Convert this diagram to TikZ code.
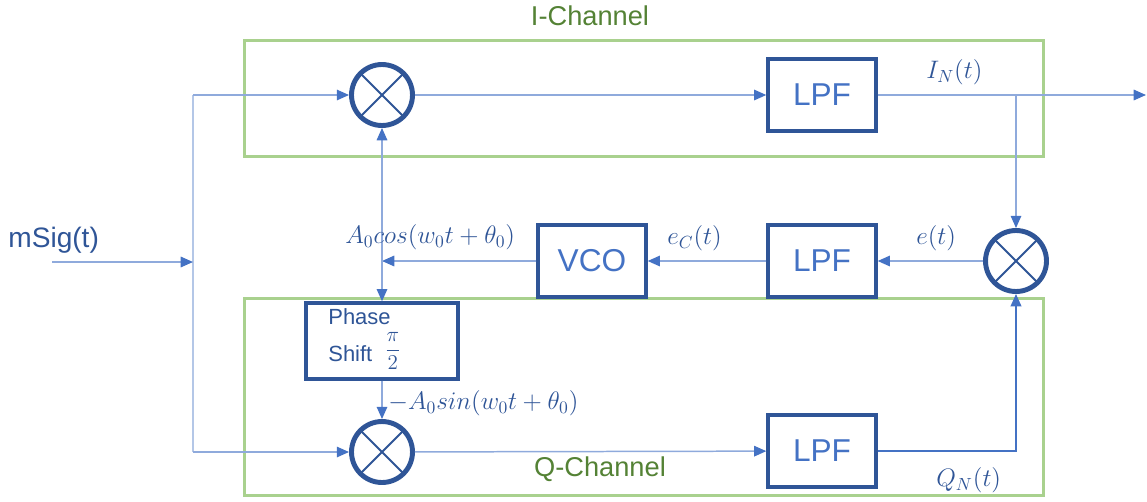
\documentclass[tikz,border=0pt]{standalone}
\usepackage{fontspec}
\setmainfont{Liberation Sans}
\usetikzlibrary{arrows.meta,positioning}
\definecolor{boxblue}{HTML}{2F5597}
\definecolor{txtblue}{HTML}{4472C4}
\definecolor{wireblue}{HTML}{8FAADC}
\definecolor{paleblue}{HTML}{B4C7E7}
\definecolor{chgreen}{HTML}{A9D18E}
\definecolor{chtext}{HTML}{548235}
\tikzset{
  channel/.style={draw=chgreen, line width=1.7pt, rectangle, minimum width=16cm, inner sep=0pt},
  chlabel/.style={text=chtext, font=\fontsize{15.5}{18}\selectfont, inner sep=0pt},
  block/.style={draw=boxblue, line width=1.9pt, rectangle, fill=white, text=txtblue,
    minimum width=2.16cm, minimum height=1.44cm, inner sep=0pt, font=\fontsize{18}{20}\selectfont},
  mixer/.style={draw=boxblue, line width=2.8pt, circle, fill=white, minimum size=1.22cm, inner sep=0pt,
    path picture={\draw[boxblue, line width=1.1pt]
      (path picture bounding box.north east) -- (path picture bounding box.south west)
      (path picture bounding box.north west) -- (path picture bounding box.south east);}},
  wire/.style={draw=wireblue, line width=0.85pt},
  sig/.style={wire, -{Triangle[length=7pt,width=6pt,color=txtblue]}},
  qsig/.style={draw=txtblue, line width=1.1pt, -{Triangle[length=7pt,width=6pt,color=txtblue]}},
  mlabel/.style={text=boxblue, font=\fontsize{14.5}{16}\selectfont, inner sep=0pt, anchor=west},
}
\begin{document}
\begin{tikzpicture}[x=0.02cm, y=-0.02cm]
\useasboundingbox (0,0) rectangle (1147,501);

% channel frames
\node[channel, minimum height=2.34cm] (chI) at (644,98.5) {};
\node[channel, minimum height=3.94cm] (chQ) at (644,397) {};
\node[chlabel] (chIlab) at (590,16) {I-Channel};
\node[chlabel] (chQlab) at (600,469) {Q-Channel};

% blocks
\node[mixer] (mi) at (382,95) {};
\node[mixer] (mq) at (382,452) {};
\node[mixer] (me) at (1016,261) {};
\node[block] (lpfi) at (822,95) {LPF};
\node[block] (lpfe) at (822,261) {LPF};
\node[block] (lpfq) at (822,451) {LPF};
\node[block] (vco) at (592,261) {VCO};
\node[block, minimum width=3.04cm, minimum height=1.52cm] (ps) at (382,341) {};
\node[text=boxblue, anchor=west, inner sep=0pt, align=left, font=\fontsize{12.5}{21}\selectfont]
  (pstext) at (328,339) {Phase\\Shift\; \raisebox{0.5ex}{$\displaystyle\frac{\pi}{2}$}};

% junction points
\coordinate (in) at (52,262);
\coordinate (split) at (193,262);
\coordinate (ti) at (193,95);
\coordinate (tq) at (193,452);
\coordinate (jv) at (382,261);
\coordinate (bi) at (1016,95);
\coordinate (out) at (1146,95);

% input distribution
\draw[draw=paleblue, line width=1.1pt] (ti) -- (tq);
\draw[sig] (in) -- (split);
\draw[sig] (ti) -- (mi.west);
\draw[sig] (tq) -- (mq.west);

% I path
\draw[sig] (mi) -- (lpfi);
\draw[sig] (lpfi.east) -- (out);
\draw[sig] (bi) -- (me.north);

% loop
\draw[sig] (me) -- (lpfe);
\draw[sig] (lpfe) -- (vco);
\draw[sig] (vco.west) -- (jv);
\draw[sig] (jv) -- (mi.south);
\draw[sig] (jv) -- (ps.north);
\draw[sig] (ps.south) -- (mq.north);

% Q path
\draw[sig] (mq) -- (lpfq);
\draw[qsig] (lpfq.east) -| (me.south);

% labels
\node[text=boxblue, font=\fontsize{16}{18}\selectfont, inner sep=0pt, anchor=west] (msig) at (8,240) {mSig(t)};
\node[mlabel] (lIN) at (926,72) {$I_N(t)$};
\node[mlabel] (le) at (916,238) {$e(t)$};
\node[mlabel] (leC) at (667,238) {$e_C(t)$};
\node[mlabel] (lcos) at (345,237) {$A_0cos(w_0t+\theta_0)$};
\node[mlabel] (lsin) at (388,403) {$-A_0sin(w_0t+\theta_0)$};
\node[mlabel] (lQN) at (936,480) {$Q_N(t)$};
\end{tikzpicture}
\end{document}
